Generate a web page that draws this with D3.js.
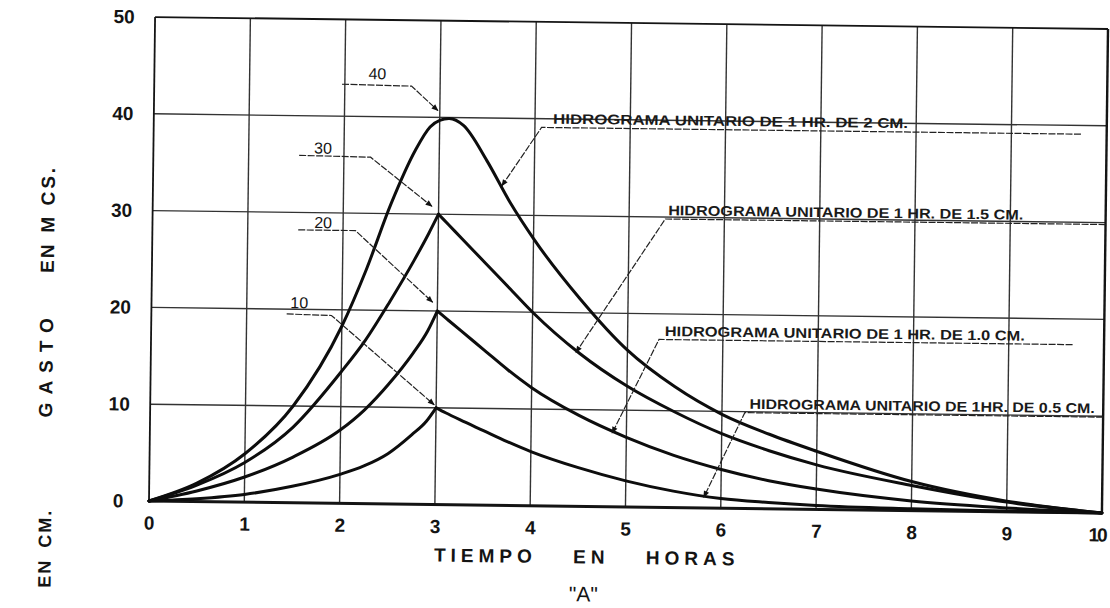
<!DOCTYPE html>
<html>
<head>
<meta charset="utf-8">
<script src="https://cdn.jsdelivr.net/npm/d3@7"></script>
<style>
  html, body { margin: 0; padding: 0; background: #fff; }
  svg { display: block; }
</style>
</head>
<body>
<svg id="chart" width="1110" height="608"></svg>
<script>
// Unit hydrographs: discharge (m³/s) against time (hours)
const hours = [0, 0.5, 1, 1.5, 2, 2.25, 2.5, 2.75, 2.9, 3, 3.1, 3.25, 3.5, 3.75, 4, 4.5, 5, 5.5, 6, 6.5, 7, 8, 9, 10];
const q2cm  = [0, 1.9, 5.0, 10.0, 18.3, 24.2, 31.0, 36.6, 39.0, 39.7, 39.9, 39.2, 35.6, 31.3, 27.6, 21.4, 16.2, 12.5, 9.7, 7.7, 6.0, 3.0, 1.1, 0];
const q15cm = [0, 1.7, 4.1, 7.8, 13.6, 16.9, 20.9, 25.2, 28.0, 30.0, 29.0, 27.5, 25.0, 22.5, 20.0, 15.8, 12.5, 9.9, 7.7, 6.0, 4.6, 2.6, 1.0, 0];
const q10cm = [0, 1.1, 2.6, 4.7, 7.6, 9.7, 12.4, 15.6, 17.9, 20.0, 19.2, 18.0, 16.0, 14.0, 12.2, 9.4, 7.2, 5.4, 4.0, 2.9, 2.1, 1.0, 0.4, 0];
const q05cm = [0, 0.3, 0.8, 1.7, 3.0, 3.9, 5.2, 7.2, 8.6, 10.0, 9.5, 8.8, 7.7, 6.6, 5.6, 4.0, 2.7, 1.7, 1.0, 0.65, 0.4, 0.18, 0.07, 0];

const xTicks = [0, 1, 2, 3, 4, 5, 6, 7, 8, 9, 10];
const yTicks = [0, 10, 20, 30, 40, 50];
const xTickLabels = ["0", "1", "2", "3", "4", "5", "6", "7", "8", "9", "10"];
const yTickLabels = ["0", "10", "20", "30", "40", "50"];

const seriesNames = [
  "HIDROGRAMA UNITARIO DE 1 HR. DE 2 CM.",
  "HIDROGRAMA UNITARIO DE 1 HR. DE 1.5 CM.",
  "HIDROGRAMA UNITARIO DE 1 HR. DE 1.0 CM.",
  "HIDROGRAMA UNITARIO DE 1HR. DE 0.5 CM."
];
const peakValues = ["40", "30", "20", "10"];

// ---- layout ----
const W = 1110, H = 608;
const margin = { left: 152, top: 23 };
const pw = 953, ph = 484;
const tilt = 0.72;               // the sheet sits slightly askew
const cx = 628.5, cy = 265;
const peakHour = 3;              // end of the 1-hour rain block

const svg = d3.select("#chart");
svg.append("rect").attr("width", W).attr("height", H).attr("fill", "#fff");

const defs = svg.append("defs");
defs.append("marker")
  .attr("id", "arrow")
  .attr("viewBox", "0 0 10 10")
  .attr("refX", 9).attr("refY", 5)
  .attr("markerWidth", 9).attr("markerHeight", 7)
  .attr("markerUnits", "userSpaceOnUse")
  .attr("orient", "auto")
  .append("path").attr("d", "M0,1 L10,5 L0,9 z").attr("fill", "#111");

const sheet = svg.append("g").attr("transform", `rotate(${tilt} ${cx} ${cy})`);
const g = sheet.append("g").attr("transform", `translate(${margin.left},${margin.top})`);

const x = d3.scaleLinear().domain([0, 10]).range([0, pw]);
const y = d3.scaleLinear().domain([0, 50]).range([ph, 0]);

const ink = "#141414";
const numFont = "'Liberation Sans', Arial, sans-serif";

// ---- grid ----
const grid = g.append("g").attr("stroke", "#333").attr("stroke-width", 1.4).attr("fill", "none");
grid.selectAll("line.v").data(xTicks.slice(1, -1)).join("line")
  .attr("x1", d => x(d)).attr("x2", d => x(d))
  .attr("y1", 0).attr("y2", ph);
grid.selectAll("line.h").data(yTicks.slice(1, -1)).join("line")
  .attr("x1", 0).attr("x2", pw)
  .attr("y1", d => y(d)).attr("y2", d => y(d));

// frame
g.append("line").attr("x1", 0).attr("x2", pw).attr("y1", 0).attr("y2", 0)
  .attr("stroke", ink).attr("stroke-width", 1.8);
g.append("line").attr("x1", pw).attr("x2", pw).attr("y1", 0).attr("y2", ph)
  .attr("stroke", ink).attr("stroke-width", 2.4);
g.append("line").attr("x1", 0).attr("x2", 0).attr("y1", 0).attr("y2", ph)
  .attr("stroke", ink).attr("stroke-width", 1.8);
g.append("line").attr("x1", 0).attr("x2", pw).attr("y1", ph).attr("y2", ph)
  .attr("stroke", ink).attr("stroke-width", 3);

// ---- axes (labels only; grid drawn above) ----
const xAxis = d3.axisBottom(x).tickValues(xTicks)
  .tickFormat((d, i) => xTickLabels[i]).tickSize(0).tickPadding(15);
const gx = g.append("g").attr("transform", `translate(0,${ph})`).call(xAxis);
gx.select(".domain").remove();
gx.selectAll("text").attr("font-family", numFont).attr("font-size", 19)
  .attr("font-weight", "bold").attr("fill", ink);
// the last hour label sits against the sheet edge
gx.selectAll("text").filter(d => d === 10)
  .attr("letter-spacing", -2).attr("dx", -5);

const yAxis = d3.axisLeft(y).tickValues(yTicks)
  .tickFormat((d, i) => yTickLabels[i]).tickSize(0).tickPadding(31);
const gy = g.append("g").call(yAxis);
gy.select(".domain").remove();
gy.selectAll("text").attr("font-family", numFont).attr("font-size", 19)
  .attr("font-weight", "bold").attr("fill", ink).attr("text-anchor", "middle");

// axis titles
g.append("text")
  .attr("x", x(4.6)).attr("y", ph + 57)
  .attr("text-anchor", "middle")
  .attr("font-family", numFont).attr("font-size", 19).attr("font-weight", "bold")
  .attr("letter-spacing", 5).attr("word-spacing", 26).attr("fill", ink)
  .text("TIEMPO EN HORAS");

g.append("text")
  .attr("x", x(4.57)).attr("y", ph + 95)
  .attr("text-anchor", "middle")
  .attr("font-family", numFont).attr("font-size", 21).attr("fill", ink)
  .text("\"A\"");

// vertical titles (rotated)
const yTitleWords = [
  { t: "GASTO", c: 371 - margin.top, ls: 8 },
  { t: "EN", c: 265 - margin.top, ls: 2 },
  { t: "M CS.", c: 206 - margin.top, ls: 3 }
];
yTitleWords.forEach(w => {
  g.append("text")
    .attr("transform", `translate(${47 - margin.left},${w.c}) rotate(-90)`)
    .attr("text-anchor", "middle").attr("dy", "0.36em")
    .attr("font-family", numFont).attr("font-size", 19).attr("font-weight", "bold")
    .attr("letter-spacing", w.ls).attr("fill", ink)
    .text(w.t);
});
g.append("text")
  .attr("transform", `translate(${48 - margin.left},${516 - margin.top}) rotate(-90)`)
  .attr("text-anchor", "end").attr("dy", "0.36em")
  .attr("font-family", numFont).attr("font-size", 18).attr("font-weight", "bold")
  .attr("letter-spacing", 2).attr("word-spacing", 4).attr("fill", ink)
  .text("EN CM.");

// ---- hydrograph curves ----
const line = d3.line()
  .x(d => x(d[0])).y(d => y(d[1]))
  .curve(d3.curveMonotoneX);

const curves = g.append("g").attr("fill", "none").attr("stroke", "#0d0d0d")
  .attr("stroke-width", 3).attr("stroke-linecap", "round").attr("stroke-linejoin", "round");

const pts = vals => hours.map((h, i) => [h, vals[i]]);

// the largest hydrograph has a rounded crest
curves.append("path").attr("d", line(pts(q2cm)));

// the others rise to a sharp crest at the end of the rain block
[q15cm, q10cm, q05cm].forEach(vals => {
  const p = pts(vals);
  curves.append("path").attr("d", line(p.filter(d => d[0] <= peakHour)));
  curves.append("path").attr("d", line(p.filter(d => d[0] >= peakHour)));
});

// ---- callouts ----
const leaderStyle = sel => sel.attr("fill", "none").attr("stroke", "#222")
  .attr("stroke-width", 1.2).attr("stroke-dasharray", "7 1.5");

const callouts = [
  { name: seriesNames[0], tx: 4.19, ty: 39.5, len: 355, under: [[9.73, 39.1], [4.07, 39.1], [3.66, 33.0]] },
  { name: seriesNames[1], tx: 5.41, ty: 30.2, len: 355, under: [[10, 29.8], [5.38, 29.8], [4.46, 15.9]] },
  { name: seriesNames[2], tx: 5.39, ty: 17.7, len: 360, under: [[9.67, 17.35], [5.33, 17.35], [4.85, 7.6]] },
  { name: seriesNames[3], tx: 6.29, ty: 10.3, len: 345, under: [[10, 9.9], [6.24, 9.9], [5.82, 1.1]] }
];
const lineStraight = d3.line().x(d => x(d[0])).y(d => y(d[1]));

callouts.forEach(c => {
  g.append("path").attr("d", lineStraight(c.under)).call(leaderStyle)
    .attr("marker-end", "url(#arrow)");
  g.append("text")
    .attr("x", x(c.tx)).attr("y", y(c.ty))
    .attr("textLength", c.len).attr("lengthAdjust", "spacingAndGlyphs")
    .attr("font-family", numFont).attr("font-size", 14).attr("font-weight", "bold")
    .attr("fill", "#1a1a1a")
    .text(c.name);
});

// crest value callouts
const crestNotes = [
  { label: peakValues[0], tx: 2.34, ty: 43.85, path: [[1.97, 43.3], [2.70, 43.2], [2.98, 40.7]] },
  { label: peakValues[1], tx: 1.78, ty: 36.1, path: [[1.53, 35.9], [2.28, 35.8], [2.93, 30.8]] },
  { label: peakValues[2], tx: 1.79, ty: 28.4, path: [[1.53, 28.2], [2.13, 28.2], [2.95, 20.9]] },
  { label: peakValues[3], tx: 1.55, ty: 20.1, path: [[1.42, 19.5], [1.89, 19.4], [2.98, 10.3]] }
];
crestNotes.forEach(n => {
  g.append("path").attr("d", lineStraight(n.path)).call(leaderStyle)
    .attr("marker-end", "url(#arrow)");
  g.append("text")
    .attr("x", x(n.tx)).attr("y", y(n.ty))
    .attr("text-anchor", "middle")
    .attr("font-family", numFont).attr("font-size", 16)
    .attr("fill", ink)
    .text(n.label);
});
</script>
</body>
</html>
